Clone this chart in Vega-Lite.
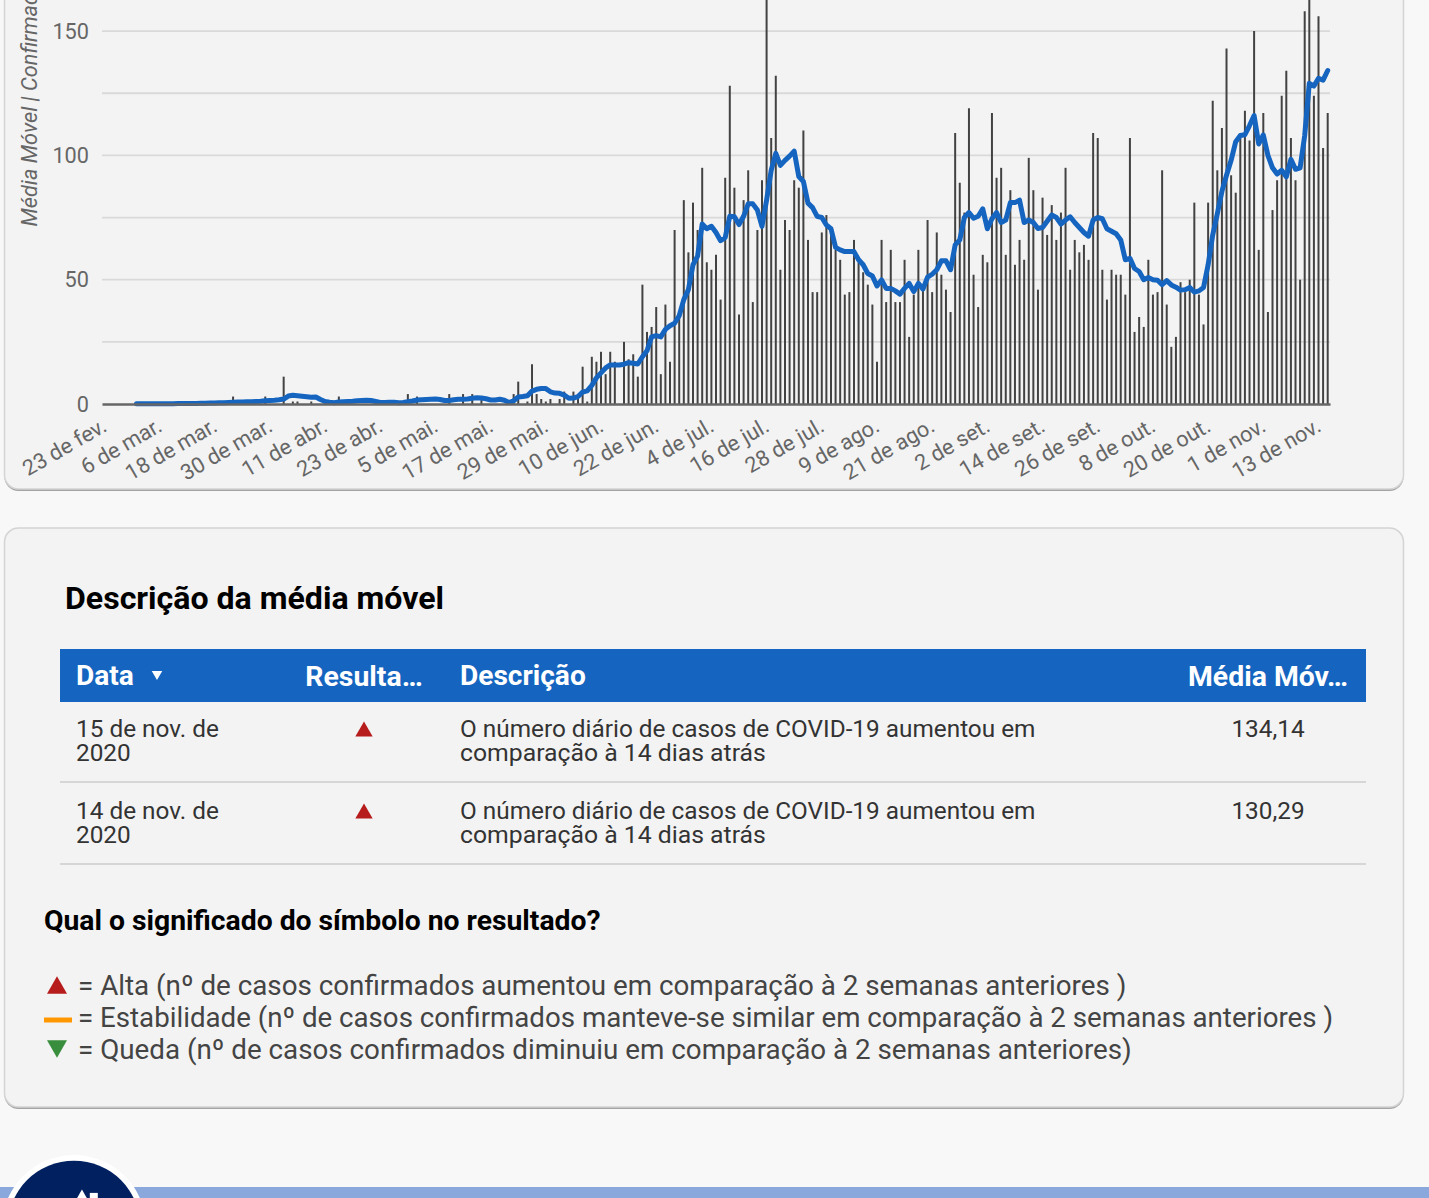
{"$schema":"https://vega.github.io/schema/vega-lite/v6.json","width":1429,"height":1198,"padding":0,"autosize":{"type":"none"},"background":"#f8f8f8","config":{"view":{"stroke":null},"font":"Roboto","text":{"font":"Roboto"}},
"datasets":{"diario":[
{"data":"2020-02-23","casos":0,"media":null},{"data":"2020-02-24","casos":0,"media":null},{"data":"2020-02-25","casos":0,"media":null},{"data":"2020-02-26","casos":0,"media":null},{"data":"2020-02-27","casos":0,"media":null},{"data":"2020-02-28","casos":0,"media":null},{"data":"2020-02-29","casos":0,"media":null},
{"data":"2020-03-01","casos":0,"media":0.1},{"data":"2020-03-02","casos":0,"media":0.1},{"data":"2020-03-03","casos":0,"media":0.1},{"data":"2020-03-04","casos":0,"media":0.1},{"data":"2020-03-05","casos":0,"media":0.1},{"data":"2020-03-06","casos":0,"media":0.1},{"data":"2020-03-07","casos":0,"media":0.1},{"data":"2020-03-08","casos":0,"media":0.1},{"data":"2020-03-09","casos":0,"media":0.1},{"data":"2020-03-10","casos":0,"media":0.2},{"data":"2020-03-11","casos":0,"media":0.2},{"data":"2020-03-12","casos":0,"media":0.2},{"data":"2020-03-13","casos":0,"media":0.2},{"data":"2020-03-14","casos":0,"media":0.2},{"data":"2020-03-15","casos":0,"media":0.3},{"data":"2020-03-16","casos":0,"media":0.3},{"data":"2020-03-17","casos":0,"media":0.4},{"data":"2020-03-18","casos":0,"media":0.4},{"data":"2020-03-19","casos":0,"media":0.5},{"data":"2020-03-20","casos":0,"media":0.5},{"data":"2020-03-21","casos":0,"media":0.6},{"data":"2020-03-22","casos":3,"media":0.7},{"data":"2020-03-23","casos":0,"media":0.8},{"data":"2020-03-24","casos":0,"media":0.8},{"data":"2020-03-25","casos":0,"media":0.9},{"data":"2020-03-26","casos":0,"media":0.9},{"data":"2020-03-27","casos":0,"media":1.0},{"data":"2020-03-28","casos":0,"media":1.1},{"data":"2020-03-29","casos":3,"media":1.3},{"data":"2020-03-30","casos":0,"media":1.4},{"data":"2020-03-31","casos":0,"media":1.5},
{"data":"2020-04-01","casos":0,"media":1.7},{"data":"2020-04-02","casos":11,"media":2.0},{"data":"2020-04-03","casos":0,"media":3.2},{"data":"2020-04-04","casos":1,"media":3.5},{"data":"2020-04-05","casos":1,"media":3.3},{"data":"2020-04-06","casos":0,"media":3.1},{"data":"2020-04-07","casos":0,"media":2.9},{"data":"2020-04-08","casos":1,"media":2.7},{"data":"2020-04-09","casos":0,"media":2.8},{"data":"2020-04-10","casos":0,"media":1.8},{"data":"2020-04-11","casos":0,"media":1.0},{"data":"2020-04-12","casos":0,"media":0.7},{"data":"2020-04-13","casos":0,"media":0.5},{"data":"2020-04-14","casos":3,"media":0.8},{"data":"2020-04-15","casos":0,"media":0.9},{"data":"2020-04-16","casos":0,"media":1.0},{"data":"2020-04-17","casos":0,"media":1.1},{"data":"2020-04-18","casos":0,"media":1.3},{"data":"2020-04-19","casos":0,"media":1.4},{"data":"2020-04-20","casos":0,"media":1.5},{"data":"2020-04-21","casos":0,"media":1.4},{"data":"2020-04-22","casos":0,"media":1.0},{"data":"2020-04-23","casos":0,"media":0.6},{"data":"2020-04-24","casos":0,"media":0.6},{"data":"2020-04-25","casos":0,"media":0.7},{"data":"2020-04-26","casos":0,"media":0.7},{"data":"2020-04-27","casos":0,"media":0.5},{"data":"2020-04-28","casos":0,"media":0.6},{"data":"2020-04-29","casos":4,"media":0.9},{"data":"2020-04-30","casos":0,"media":1.2},
{"data":"2020-05-01","casos":3,"media":1.6},{"data":"2020-05-02","casos":0,"media":1.7},{"data":"2020-05-03","casos":0,"media":1.8},{"data":"2020-05-04","casos":0,"media":1.9},{"data":"2020-05-05","casos":0,"media":2.0},{"data":"2020-05-06","casos":0,"media":1.8},{"data":"2020-05-07","casos":0,"media":1.4},{"data":"2020-05-08","casos":4,"media":1.4},{"data":"2020-05-09","casos":0,"media":1.7},{"data":"2020-05-10","casos":0,"media":1.9},{"data":"2020-05-11","casos":4,"media":1.9},{"data":"2020-05-12","casos":0,"media":2.0},{"data":"2020-05-13","casos":4,"media":2.3},{"data":"2020-05-14","casos":0,"media":2.5},{"data":"2020-05-15","casos":2,"media":2.4},{"data":"2020-05-16","casos":0,"media":2.1},{"data":"2020-05-17","casos":0,"media":1.6},{"data":"2020-05-18","casos":0,"media":1.6},{"data":"2020-05-19","casos":0,"media":1.9},{"data":"2020-05-20","casos":0,"media":1.5},{"data":"2020-05-21","casos":0,"media":0.6},{"data":"2020-05-22","casos":4,"media":1.3},{"data":"2020-05-23","casos":9,"media":2.8},{"data":"2020-05-24","casos":0,"media":3.0},{"data":"2020-05-25","casos":1,"media":3.3},{"data":"2020-05-26","casos":16,"media":5.2},{"data":"2020-05-27","casos":4,"media":5.9},{"data":"2020-05-28","casos":2,"media":6.2},{"data":"2020-05-29","casos":1,"media":6.2},{"data":"2020-05-30","casos":2,"media":4.9},{"data":"2020-05-31","casos":0,"media":4.4},
{"data":"2020-06-01","casos":2,"media":4.3},{"data":"2020-06-02","casos":5,"media":3.6},{"data":"2020-06-03","casos":0,"media":2.3},{"data":"2020-06-04","casos":5,"media":2.4},{"data":"2020-06-05","casos":2,"media":3.0},{"data":"2020-06-06","casos":15,"media":4.8},{"data":"2020-06-07","casos":1,"media":5.3},{"data":"2020-06-08","casos":19,"media":7.5},{"data":"2020-06-09","casos":17,"media":10.5},{"data":"2020-06-10","casos":21,"media":12.5},{"data":"2020-06-11","casos":12,"media":14.5},{"data":"2020-06-12","casos":21,"media":15.7},{"data":"2020-06-13","casos":17,"media":15.7},{"data":"2020-06-14","casos":0,"media":15.7},{"data":"2020-06-15","casos":25,"media":16},{"data":"2020-06-16","casos":18,"media":16.6},{"data":"2020-06-17","casos":20,"media":16.4},{"data":"2020-06-18","casos":11,"media":16.1},{"data":"2020-06-19","casos":48,"media":19},{"data":"2020-06-20","casos":29,"media":21.4},{"data":"2020-06-21","casos":31,"media":27},{"data":"2020-06-22","casos":39,"media":27.5},{"data":"2020-06-23","casos":12,"media":27},{"data":"2020-06-24","casos":40,"media":30},{"data":"2020-06-25","casos":17,"media":31.5},{"data":"2020-06-26","casos":70,"media":32.5},{"data":"2020-06-27","casos":35,"media":35.5},{"data":"2020-06-28","casos":82,"media":42},{"data":"2020-06-29","casos":61,"media":46},{"data":"2020-06-30","casos":81,"media":56},
{"data":"2020-07-01","casos":70,"media":59.5},{"data":"2020-07-02","casos":95,"media":72.4},{"data":"2020-07-03","casos":57,"media":70.5},{"data":"2020-07-04","casos":54,"media":71.5},{"data":"2020-07-05","casos":60,"media":69},{"data":"2020-07-06","casos":42,"media":65.7},{"data":"2020-07-07","casos":91,"media":67},{"data":"2020-07-08","casos":128,"media":75.5},{"data":"2020-07-09","casos":87,"media":75.3},{"data":"2020-07-10","casos":36,"media":72.2},{"data":"2020-07-11","casos":82,"media":75.5},{"data":"2020-07-12","casos":94,"media":80.5},{"data":"2020-07-13","casos":41,"media":80.5},{"data":"2020-07-14","casos":70,"media":78},{"data":"2020-07-15","casos":90,"media":71.5},{"data":"2020-07-16","casos":175,"media":82},{"data":"2020-07-17","casos":107,"media":94},{"data":"2020-07-18","casos":132,"media":100.8},{"data":"2020-07-19","casos":54,"media":96},{"data":"2020-07-20","casos":74,"media":98},{"data":"2020-07-21","casos":70,"media":99.7},{"data":"2020-07-22","casos":90,"media":101.7},{"data":"2020-07-23","casos":87,"media":91.5},{"data":"2020-07-24","casos":110,"media":89.5},{"data":"2020-07-25","casos":66,"media":80.8},{"data":"2020-07-26","casos":45,"media":79},{"data":"2020-07-27","casos":45,"media":75.5},{"data":"2020-07-28","casos":69,"media":75},{"data":"2020-07-29","casos":76,"media":72},{"data":"2020-07-30","casos":71,"media":70.5},{"data":"2020-07-31","casos":62,"media":63},
{"data":"2020-08-01","casos":58,"media":62},{"data":"2020-08-02","casos":44,"media":61.3},{"data":"2020-08-03","casos":45,"media":61.3},{"data":"2020-08-04","casos":66,"media":61.3},{"data":"2020-08-05","casos":57,"media":58},{"data":"2020-08-06","casos":53,"media":56},{"data":"2020-08-07","casos":48,"media":52.5},{"data":"2020-08-08","casos":40,"media":51.5},{"data":"2020-08-09","casos":17,"media":47.5},{"data":"2020-08-10","casos":66,"media":49.9},{"data":"2020-08-11","casos":41,"media":46.5},{"data":"2020-08-12","casos":62,"media":46.5},{"data":"2020-08-13","casos":41,"media":45.5},{"data":"2020-08-14","casos":41,"media":44.2},{"data":"2020-08-15","casos":58,"media":46.5},{"data":"2020-08-16","casos":27,"media":48.5},{"data":"2020-08-17","casos":44,"media":45.2},{"data":"2020-08-18","casos":62,"media":48.5},{"data":"2020-08-19","casos":46,"media":46.2},{"data":"2020-08-20","casos":74,"media":51},{"data":"2020-08-21","casos":45,"media":52.2},{"data":"2020-08-22","casos":69,"media":54},{"data":"2020-08-23","casos":52,"media":57.6},{"data":"2020-08-24","casos":46,"media":57.6},{"data":"2020-08-25","casos":37,"media":54},{"data":"2020-08-26","casos":109,"media":64},{"data":"2020-08-27","casos":89,"media":66},{"data":"2020-08-28","casos":77,"media":75},{"data":"2020-08-29","casos":119,"media":77},{"data":"2020-08-30","casos":52,"media":74.7},{"data":"2020-08-31","casos":39,"media":75.5},
{"data":"2020-09-01","casos":60,"media":78.5},{"data":"2020-09-02","casos":57,"media":70.5},{"data":"2020-09-03","casos":117,"media":74.5},{"data":"2020-09-04","casos":91,"media":77},{"data":"2020-09-05","casos":95,"media":73},{"data":"2020-09-06","casos":60,"media":74},{"data":"2020-09-07","casos":86,"media":81},{"data":"2020-09-08","casos":56,"media":81},{"data":"2020-09-09","casos":66,"media":82},{"data":"2020-09-10","casos":58,"media":73},{"data":"2020-09-11","casos":99,"media":74},{"data":"2020-09-12","casos":86,"media":73},{"data":"2020-09-13","casos":46,"media":70.6},{"data":"2020-09-14","casos":83,"media":71},{"data":"2020-09-15","casos":68,"media":73.5},{"data":"2020-09-16","casos":80,"media":76},{"data":"2020-09-17","casos":66,"media":75},{"data":"2020-09-18","casos":77,"media":72.4},{"data":"2020-09-19","casos":95,"media":74},{"data":"2020-09-20","casos":54,"media":75.3},{"data":"2020-09-21","casos":66,"media":73},{"data":"2020-09-22","casos":61,"media":71},{"data":"2020-09-23","casos":64,"media":69},{"data":"2020-09-24","casos":58,"media":67.5},{"data":"2020-09-25","casos":109,"media":74},{"data":"2020-09-26","casos":107,"media":75},{"data":"2020-09-27","casos":54,"media":74.5},{"data":"2020-09-28","casos":42,"media":70.5},{"data":"2020-09-29","casos":54,"media":69.5},{"data":"2020-09-30","casos":52,"media":68.5},
{"data":"2020-10-01","casos":52,"media":66},{"data":"2020-10-02","casos":44,"media":58},{"data":"2020-10-03","casos":107,"media":58.6},{"data":"2020-10-04","casos":29,"media":54.5},{"data":"2020-10-05","casos":35,"media":53.3},{"data":"2020-10-06","casos":31,"media":50},{"data":"2020-10-07","casos":58,"media":50.9},{"data":"2020-10-08","casos":44,"media":50},{"data":"2020-10-09","casos":45,"media":49.8},{"data":"2020-10-10","casos":94,"media":48},{"data":"2020-10-11","casos":40,"media":49.6},{"data":"2020-10-12","casos":23,"media":47.9},{"data":"2020-10-13","casos":27,"media":47},{"data":"2020-10-14","casos":49,"media":45.8},{"data":"2020-10-15","casos":45,"media":46},{"data":"2020-10-16","casos":50,"media":46.9},{"data":"2020-10-17","casos":81,"media":45},{"data":"2020-10-18","casos":44,"media":45.5},{"data":"2020-10-19","casos":32,"media":46.9},{"data":"2020-10-20","casos":81,"media":56},{"data":"2020-10-21","casos":122,"media":68},{"data":"2020-10-22","casos":94,"media":76.5},{"data":"2020-10-23","casos":111,"media":85.5},{"data":"2020-10-24","casos":143,"media":92},{"data":"2020-10-25","casos":92,"media":98},{"data":"2020-10-26","casos":85,"media":105.5},{"data":"2020-10-27","casos":108,"media":108},{"data":"2020-10-28","casos":118,"media":108.3},{"data":"2020-10-29","casos":106,"media":112},{"data":"2020-10-30","casos":150,"media":116},{"data":"2020-10-31","casos":62,"media":104.6},
{"data":"2020-11-01","casos":117,"media":108.2},{"data":"2020-11-02","casos":37,"media":100},{"data":"2020-11-03","casos":78,"media":95},{"data":"2020-11-04","casos":90,"media":92.5},{"data":"2020-11-05","casos":124,"media":94},{"data":"2020-11-06","casos":134,"media":91.4},{"data":"2020-11-07","casos":107,"media":98.4},{"data":"2020-11-08","casos":90,"media":94.4},{"data":"2020-11-09","casos":50,"media":95},{"data":"2020-11-10","casos":158,"media":108},{"data":"2020-11-11","casos":170,"media":129},{"data":"2020-11-12","casos":124,"media":127.9},{"data":"2020-11-13","casos":156,"media":131},{"data":"2020-11-14","casos":103,"media":130.29},{"data":"2020-11-15","casos":117,"media":134.14}
]},
"resolve":{"scale":{"x":"independent","y":"independent"}},
"layer":[
{"encoding":{"x":{"field":"col","type":"quantitative","axis":null,"scale":{"type":"linear","nice":false,"zero":false,"domain":[0,1,2,3,4,5,6,7,8,9,10,11,12,13,14,15,16],"range":[0,4.5,44,57,60,65,72,74,76,78,157,364,460,1268,1366,1403.5,1429]}},"y":{"field":"lin","type":"quantitative","axis":null,"scale":{"type":"linear","nice":false,"zero":false,"domain":[0,1,2,3,4,5,6,7,8,9,10,11,12,13,14,15,16,17,18,19,20,21,22,23],"range":[-30,489,491,528,598,649,675.5,702,729,753,782,811,835,864,921,985,1017,1020,1049,1107,1109,1187,1198,1227]}}},
"layer":[
{"data":{"values":[{"col":1,"col2":15,"lin":0,"lin2":2},{"col":1,"col2":15,"lin":3,"lin2":20}]},"mark":{"type":"rect","color":"#a3a3a3","cornerRadius":14},"encoding":{"x2":{"field":"col2"},"y2":{"field":"lin2"}}},
{"data":{"values":[{"col":1,"col2":15,"lin":0,"lin2":1},{"col":1,"col2":15,"lin":3,"lin2":19}]},"mark":{"type":"rect","fill":"#f3f3f3","stroke":"#d4d4d4","strokeWidth":1.5,"cornerRadius":14},"encoding":{"x2":{"field":"col2"},"y2":{"field":"lin2"}}},
{"data":{"values":[{"col":0,"col2":16,"lin":21,"lin2":22}]},"mark":{"type":"rect","color":"#8aa8dc"},"encoding":{"x2":{"field":"col2"},"y2":{"field":"lin2"}}},
{"data":{"values":[{"col":4,"col2":14,"lin":5,"lin2":7}]},"mark":{"type":"rect","color":"#1565c0"},"encoding":{"x2":{"field":"col2"},"y2":{"field":"lin2"}}},
{"data":{"values":[{"col":4,"col2":14,"lin":10},{"col":4,"col2":14,"lin":13}]},"mark":{"type":"rule","color":"#cccccc","strokeWidth":1.5},"encoding":{"x2":{"field":"col2"}}},
{"data":{"values":[{"col":2,"col2":6,"lin":17}]},"mark":{"type":"rule","color":"#ff9800","strokeWidth":5},"encoding":{"x2":{"field":"col2"}}},
{"data":{"values":[{"col":7,"lin":23}]},"mark":{"type":"point","shape":"circle","filled":true,"opacity":1,"color":"#ffffff","size":20736}},
{"data":{"values":[{"col":7,"lin":23}]},"mark":{"type":"point","shape":"circle","filled":true,"opacity":1,"color":"#002060","size":17600}},
{"data":{"values":[{"col":9.05,"lin":21.75}]},"mark":{"type":"point","shape":"triangle-up","filled":true,"opacity":1,"color":"#ffffff","size":170}},
{"data":{"values":[{"col":9.2,"lin":21.9}]},"mark":{"type":"point","shape":"square","filled":true,"opacity":1,"color":"#ffffff","size":64}},
{"data":{"values":[{"col":11,"lin":8,"resultado":"Alta"},{"col":11,"lin":11,"resultado":"Alta"}]},"mark":{"type":"point","shape":"triangle-up","filled":true,"opacity":1,"color":"#b71c1c","size":300}},
{"data":{"values":[{"col":3,"lin":15}]},"mark":{"type":"point","shape":"triangle-up","filled":true,"opacity":1,"color":"#b71c1c","size":400}},
{"data":{"values":[{"col":3,"lin":18}]},"mark":{"type":"point","shape":"triangle-down","filled":true,"opacity":1,"color":"#388e3c","size":400}},
{"data":{"values":[{"col":10,"lin":6}]},"mark":{"type":"point","shape":"triangle-down","filled":true,"opacity":1,"color":"#ffffff","size":110}},
{"data":{"values":[{"col":5,"lin":4,"texto":"Descrição da média móvel"}]},"mark":{"type":"text","font":"Roboto","fontWeight":"bold","fontSize":32.1,"color":"#000000","align":"left","baseline":"middle","dy":1},"encoding":{"text":{"field":"texto"}}},
{"data":{"values":[{"col":8,"lin":6,"texto":"Data"},{"col":12,"lin":6,"texto":"Descrição"}]},"mark":{"type":"text","font":"Roboto","fontWeight":"bold","fontSize":28.1,"color":"#ffffff","align":"left","baseline":"middle","dy":1},"encoding":{"text":{"field":"texto"}}},
{"data":{"values":[{"col":11,"lin":6,"texto":"Resulta…"},{"col":13,"lin":6,"texto":"Média Móv…"}]},"mark":{"type":"text","font":"Roboto","fontWeight":"bold","fontSize":28.4,"color":"#ffffff","align":"center","baseline":"middle","dy":1},"encoding":{"text":{"field":"texto"}}},
{"data":{"values":[{"col":8,"lin":8,"texto":"15 de nov. de"},{"col":8,"lin":9,"texto":"2020"},{"col":8,"lin":11,"texto":"14 de nov. de"},{"col":8,"lin":12,"texto":"2020"},{"col":12,"lin":8,"texto":"O número diário de casos de COVID-19 aumentou em"},{"col":12,"lin":11,"texto":"O número diário de casos de COVID-19 aumentou em"}]},"mark":{"type":"text","font":"Roboto","fontSize":24.35,"color":"#333333","align":"left","baseline":"middle","dy":1},"encoding":{"text":{"field":"texto"}}},
{"data":{"values":[{"col":12,"lin":9,"texto":"comparação à 14 dias atrás"},{"col":12,"lin":12,"texto":"comparação à 14 dias atrás"}]},"mark":{"type":"text","font":"Roboto","fontSize":24.75,"color":"#333333","align":"left","baseline":"middle","dy":1},"encoding":{"text":{"field":"texto"}}},
{"data":{"values":[{"col":13,"lin":8,"texto":"134,14"},{"col":13,"lin":11,"texto":"130,29"}]},"mark":{"type":"text","font":"Roboto","fontSize":24.35,"color":"#333333","align":"center","baseline":"middle","dy":1},"encoding":{"text":{"field":"texto"}}},
{"data":{"values":[{"col":2,"lin":14,"texto":"Qual o significado do símbolo no resultado?"}]},"mark":{"type":"text","font":"Roboto","fontWeight":"bold","fontSize":28.3,"color":"#000000","align":"left","baseline":"middle","dy":1},"encoding":{"text":{"field":"texto"}}},
{"data":{"values":[{"col":9,"lin":15,"texto":"= Alta (nº de casos confirmados aumentou em comparação à 2 semanas anteriores )"},{"col":9,"lin":18,"texto":"= Queda (nº de casos confirmados diminuiu em comparação à 2 semanas anteriores)"}]},"mark":{"type":"text","font":"Roboto","fontSize":27.78,"color":"#444444","align":"left","baseline":"middle","dy":2},"encoding":{"text":{"field":"texto"}}},
{"data":{"values":[{"col":9,"lin":16,"texto":"= Estabilidade (nº de casos confirmados manteve-se similar em comparação à 2 semanas anteriores )"}]},"mark":{"type":"text","font":"Roboto","fontSize":27.68,"color":"#444444","align":"left","baseline":"middle","dy":2},"encoding":{"text":{"field":"texto"}}}
]},
{"layer":[
{"data":{"values":[{"valor":25,"inicio":"2020-02-22T12:00:00Z","fim":"2020-11-15T12:00:00Z"},{"valor":50,"inicio":"2020-02-22T12:00:00Z","fim":"2020-11-15T12:00:00Z"},{"valor":75,"inicio":"2020-02-22T12:00:00Z","fim":"2020-11-15T12:00:00Z"},{"valor":100,"inicio":"2020-02-22T12:00:00Z","fim":"2020-11-15T12:00:00Z"},{"valor":125,"inicio":"2020-02-22T12:00:00Z","fim":"2020-11-15T12:00:00Z"},{"valor":150,"inicio":"2020-02-22T12:00:00Z","fim":"2020-11-15T12:00:00Z"}]},"mark":{"type":"rule","color":"#d9d9d9","strokeWidth":1.8},
"encoding":{"x":{"field":"inicio","type":"temporal","title":null,
"scale":{"type":"utc","padding":0,"domain":[{"year":2020,"month":2,"date":22,"hours":12,"utc":true},{"year":2020,"month":11,"date":15,"hours":12,"utc":true}],"range":[102,1330]},
"axis":{"offset":-794,"orient":"bottom","zindex":1,"grid":false,"ticks":false,"domain":true,"domainColor":"#666666","domainWidth":2.5,"labelFont":"Roboto","labelFontSize":21.7,"labelColor":"#666666","labelAngle":330,"labelAlign":"right","labelBaseline":"top","labelPadding":11,"labelOffset":-5,"labelOverlap":false,"labelBound":false,"labelFlush":false,"labelLimit":0,
"values":[{"year":2020,"month":2,"date":23,"utc":true},{"year":2020,"month":3,"date":6,"utc":true},{"year":2020,"month":3,"date":18,"utc":true},{"year":2020,"month":3,"date":30,"utc":true},{"year":2020,"month":4,"date":11,"utc":true},{"year":2020,"month":4,"date":23,"utc":true},{"year":2020,"month":5,"date":5,"utc":true},{"year":2020,"month":5,"date":17,"utc":true},{"year":2020,"month":5,"date":29,"utc":true},{"year":2020,"month":6,"date":10,"utc":true},{"year":2020,"month":6,"date":22,"utc":true},{"year":2020,"month":7,"date":4,"utc":true},{"year":2020,"month":7,"date":16,"utc":true},{"year":2020,"month":7,"date":28,"utc":true},{"year":2020,"month":8,"date":9,"utc":true},{"year":2020,"month":8,"date":21,"utc":true},{"year":2020,"month":9,"date":2,"utc":true},{"year":2020,"month":9,"date":14,"utc":true},{"year":2020,"month":9,"date":26,"utc":true},{"year":2020,"month":10,"date":8,"utc":true},{"year":2020,"month":10,"date":20,"utc":true},{"year":2020,"month":11,"date":1,"utc":true},{"year":2020,"month":11,"date":13,"utc":true}],
"labelExpr":"utcdate(datum.value) + ' de ' + ['jan.','fev.','mar.','abr.','mai.','jun.','jul.','ago.','set.','out.','nov.','dez.'][utcmonth(datum.value)]"}},
"x2":{"field":"fim"},
"y":{"field":"valor","type":"quantitative"}}},
{"data":{"name":"diario"},"mark":{"type":"bar","width":2,"orient":"vertical","color":"#424242"},"encoding":{"x":{"field":"data","type":"temporal"},"y":{"field":"casos","type":"quantitative"}}},
{"data":{"name":"diario"},"mark":{"type":"line","color":"#1565c0","strokeWidth":5,"strokeCap":"round","strokeJoin":"round"},"encoding":{"x":{"field":"data","type":"temporal"},"y":{"field":"media","type":"quantitative",
"scale":{"type":"linear","nice":false,"zero":true,"domain":[0,162.5],"range":[404,0]},
"axis":{"offset":-102,"orient":"left","zindex":1,"values":[0,50,100,150],"grid":false,"ticks":false,"domain":false,"labelFont":"Roboto","labelFontSize":21.7,"labelColor":"#666666","labelPadding":13.5,"title":"Média Móvel | Confirmados","titleFont":"Roboto","titleFontStyle":"italic","titleFontWeight":"normal","titleFontSize":21.7,"titleColor":"#666666","titleAngle":-90,"titleAlign":"left","titleBaseline":"middle","titleX":-73,"titleY":226}}}}
]}
]}
